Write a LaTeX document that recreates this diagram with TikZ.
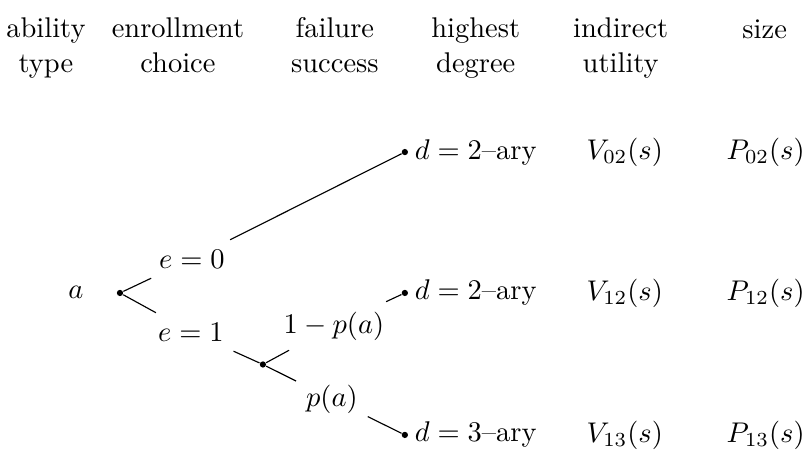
\documentclass[tikz,border=0pt]{standalone}
\usepackage{amsmath}
\usepackage{amssymb}
\usepackage{tikz}
\begin{document}
\begin{tikzpicture}[dot node/.style={circle, fill, inner sep=0pt, minimum size=2.2pt}, head node/.style={align=center, anchor=base}]
  \useasboundingbox (0,0) rectangle (9.93,5.55);

  % Column headings
  \node[head node] (hType) at (0.567,4.66) {ability\\type};
  \node[head node] (hChoice) at (2.195,4.66) {enrollment\\choice};
  \node[head node] (hFail) at (4.131,4.66) {failure\\success};
  \node[head node] (hDeg) at (5.869,4.66) {highest\\degree};
  \node[head node] (hUtil) at (7.657,4.66) {indirect\\utility};
  \node[head node] (hSize) at (9.433,5.08) {size};

  % Tree nodes
  \node (a) at (0.937,1.948) {$a$};
  \node[dot node] (root) at (1.48,1.936) {};
  \node (e0) at (2.367,2.355) {$e=0$};
  \node (e1) at (2.355,1.455) {$e=1$};
  \node[dot node] (fs) at (3.243,1.054) {};
  \node (q) at (4.118,1.529) {$1-p(a)$};
  \node (p) at (4.094,0.629) {$p(a)$};
  \node[dot node] (d02) at (4.994,3.674) {};
  \node[dot node] (d12) at (4.994,1.936) {};
  \node[dot node] (d13) at (4.994,0.185) {};

  % Outcomes
  \node[anchor=west] (t02) at (d02.center) {$d=2$--ary};
  \node[anchor=west] (t12) at (d12.center) {$d=2$--ary};
  \node[anchor=west] (t13) at (d13.center) {$d=3$--ary};
  \node (V02) at (7.707,3.674) {$V_{02}(s)$};
  \node (V12) at (7.707,1.936) {$V_{12}(s)$};
  \node (V13) at (7.707,0.185) {$V_{13}(s)$};
  \node (P02) at (9.445,3.674) {$P_{02}(s)$};
  \node (P12) at (9.445,1.936) {$P_{12}(s)$};
  \node (P13) at (9.445,0.185) {$P_{13}(s)$};

  % Branches
  \draw (root) -- (e0);
  \draw (e0) -- (d02);
  \draw (root) -- (e1);
  \draw (e1) -- (fs);
  \draw (fs) -- (q);
  \draw (q) -- (d12);
  \draw (fs) -- (p);
  \draw (p) -- (d13);
\end{tikzpicture}
\end{document}
